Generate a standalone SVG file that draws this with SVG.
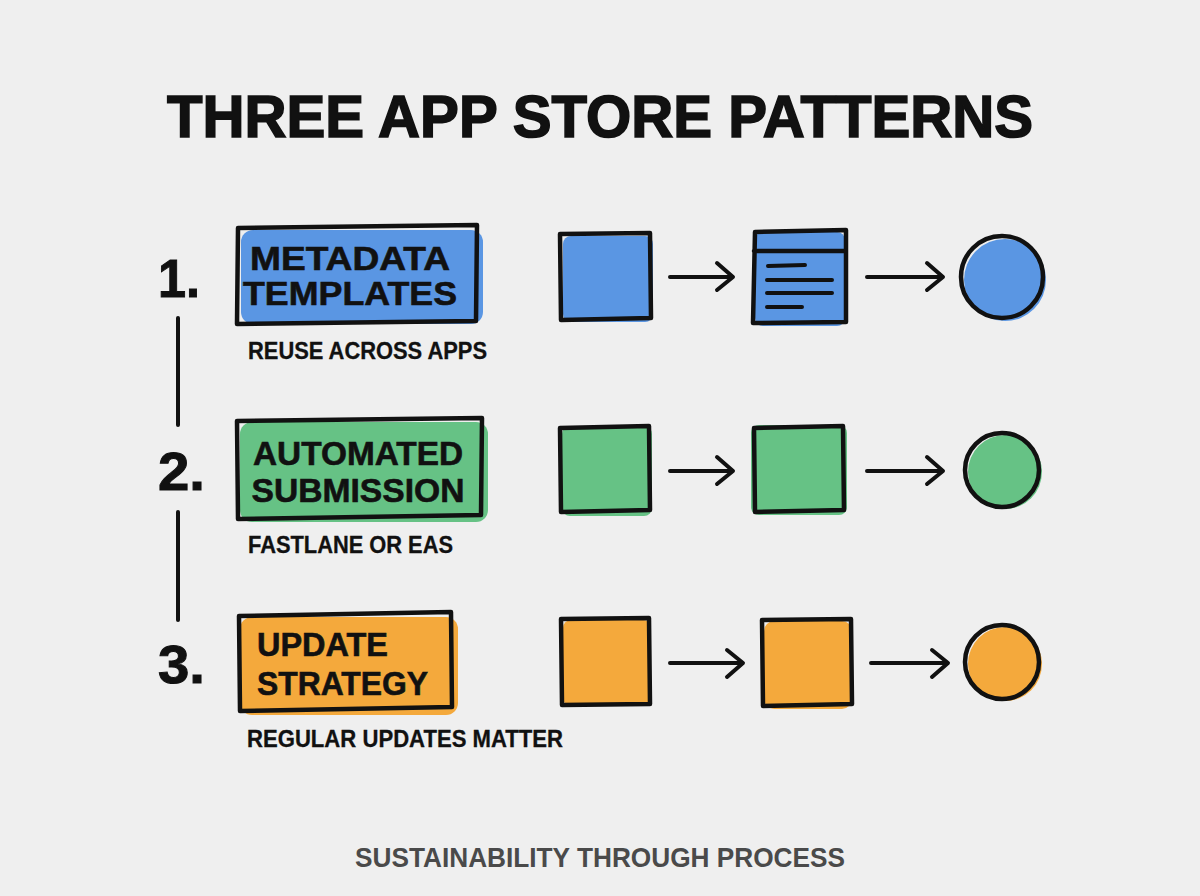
<svg xmlns="http://www.w3.org/2000/svg" width="1200" height="896" viewBox="0 0 1200 896">
<defs>
<style>
.t{font-family:"Liberation Sans",Arial,sans-serif;font-weight:bold;fill:#111}
.title{font-size:60px;stroke:#111;stroke-width:1.6px}
.num{font-size:54px;stroke:#111;stroke-width:1px}
.lbl{font-size:33px;text-anchor:middle;stroke:#111;stroke-width:0.6px}
.sub{font-size:23px;stroke:#111;stroke-width:0.3px}
.foot{font-size:28px;fill:#4a4a4a;text-anchor:middle}
.ol{fill:none;stroke:#111;stroke-width:4.5;stroke-linejoin:round;stroke-linecap:round}
.ln{fill:none;stroke:#111;stroke-width:4;stroke-linecap:round;stroke-linejoin:round}
.blue{fill:#5a96e3}
.green{fill:#66c285}
.orange{fill:#f4a93c}
</style>
</defs>
<rect width="1200" height="896" fill="#efefef"/>
<text class="t title" x="600" y="137" text-anchor="middle" textLength="866" lengthAdjust="spacingAndGlyphs">THREE APP STORE PATTERNS</text>

<g id="connectors">
<path class="ln" d="M178 318 L178 425"/>
<path class="ln" d="M178 512 L178 620"/>
<path class="ln" d="M670 277 L732 277 M717 263 L733 277 L717 290"/>
<path class="ln" d="M867 277 L942 277 M927 263 L943 277 L927 290"/>
<path class="ln" d="M670 471 L732 471 M717 457 L733 471 L717 484"/>
<path class="ln" d="M867 471 L942 471 M927 457 L943 471 L927 484"/>
<path class="ln" d="M670 663 L742 663 M727 650 L743 663 L727 677"/>
<path class="ln" d="M871 663 L947 663 M932 650 L948 663 L932 677"/>
</g>

<g id="row1">
<text class="t num" x="158" y="297" textLength="42" lengthAdjust="spacingAndGlyphs">1.</text>
<g id="label1">
<rect class="blue" x="241" y="230" width="242" height="94" rx="12"/>
<path class="ol" d="M238 228 L477 225 L476 321 L237 324 Z"/>
<text class="t lbl" x="350" y="270" textLength="200" lengthAdjust="spacingAndGlyphs">METADATA</text>
<text class="t lbl" x="350" y="305" textLength="214" lengthAdjust="spacingAndGlyphs">TEMPLATES</text>
</g>
<text class="t sub" x="248" y="359" textLength="239" lengthAdjust="spacingAndGlyphs">REUSE ACROSS APPS</text>
<g id="r1a">
<rect class="blue" x="563" y="236" width="90" height="86" rx="8"/>
<path class="ol" d="M560 234 L650 233 L651 318 L561 320 Z"/>
</g>
<g id="r1b">
<rect class="blue" x="755" y="232" width="90" height="94" rx="8"/>
<path class="ol" d="M755 232 L846 230 L846 322 L753 323 Z M754 251 L845 251"/>
<path class="ln" d="M768 266 L805 265 M767 280 L832 280 M767 293 L832 293 M767 307 L802 307"/>
</g>
<g id="r1c">
<circle class="blue" cx="1005" cy="280" r="41"/>
<circle class="ol" cx="1002" cy="277" r="41"/>
</g>
</g>

<g id="row2">
<text class="t num" x="158" y="490" textLength="47" lengthAdjust="spacingAndGlyphs">2.</text>
<g id="label2">
<rect class="green" x="240" y="422" width="248" height="100" rx="12"/>
<path class="ol" d="M237 421 L482 418 L481 515 L238 519 Z"/>
<text class="t lbl" x="358" y="465" textLength="210" lengthAdjust="spacingAndGlyphs">AUTOMATED</text>
<text class="t lbl" x="358" y="502" textLength="213" lengthAdjust="spacingAndGlyphs">SUBMISSION</text>
</g>
<text class="t sub" x="248" y="553" textLength="205" lengthAdjust="spacingAndGlyphs">FASTLANE OR EAS</text>
<g id="r2a">
<rect class="green" x="562" y="426" width="90" height="90" rx="8"/>
<path class="ol" d="M560 428 L649 426 L650 510 L561 512 Z"/>
</g>
<g id="r2b">
<rect class="green" x="751" y="425" width="96" height="90" rx="8"/>
<path class="ol" d="M754 428 L843 426 L844 510 L755 512 Z"/>
</g>
<g id="r2c">
<circle class="green" cx="1005" cy="472" r="37"/>
<circle class="ol" cx="1002" cy="470" r="37"/>
</g>
</g>

<g id="row3">
<text class="t num" x="158" y="683" textLength="47" lengthAdjust="spacingAndGlyphs">3.</text>
<g id="label3">
<rect class="orange" x="240" y="617" width="218" height="98" rx="12"/>
<path class="ol" d="M239 616 L451 612 L452 707 L240 711 Z"/>
<text class="t lbl" x="257" y="656" textLength="131" lengthAdjust="spacingAndGlyphs" style="text-anchor:start">UPDATE</text>
<text class="t lbl" x="257" y="695" textLength="171" lengthAdjust="spacingAndGlyphs" style="text-anchor:start">STRATEGY</text>
</g>
<text class="t sub" x="247" y="747" textLength="316" lengthAdjust="spacingAndGlyphs">REGULAR UPDATES MATTER</text>
<g id="r3a">
<rect class="orange" x="563" y="620" width="88" height="86" rx="8"/>
<path class="ol" d="M561 619 L649 618 L650 704 L562 705 Z"/>
</g>
<g id="r3b">
<rect class="orange" x="764" y="621" width="88" height="88" rx="10"/>
<path class="ol" d="M762 620 L851 619 L852 704 L763 706 Z"/>
</g>
<g id="r3c">
<circle class="orange" cx="1005" cy="664" r="37"/>
<circle class="ol" cx="1002" cy="662" r="37"/>
</g>
</g>

<text class="t foot" x="600" y="867" textLength="490" lengthAdjust="spacingAndGlyphs">SUSTAINABILITY THROUGH PROCESS</text>
</svg>
